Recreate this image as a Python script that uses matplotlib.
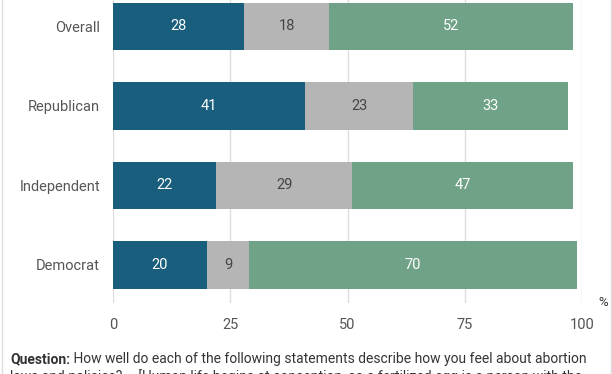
import matplotlib
matplotlib.use("Agg")
import matplotlib.pyplot as plt
import matplotlib.font_manager as fm
from matplotlib.lines import Line2D

# prefer static Roboto files over the variable-width one
fm.fontManager.ttflist = [f for f in fm.fontManager.ttflist
                          if not (f.name == "Roboto" and "[" in f.fname)]
plt.rcParams['font.family'] = ['Roboto', 'DejaVu Sans']

categories = ["Overall", "Republican", "Independent", "Democrat"]
series_a = [28, 41, 22, 20]
series_b = [18, 23, 29, 9]
series_c = [52, 33, 47, 70]
x_ticks = [0, 25, 50, 75, 100]
caption_bold = "Question:"
caption_line1 = " How well do each of the following statements describe how you feel about abortion"
caption_line2 = "laws and policies? \u2013 [Human life begins at conception, so a fertilized egg is a person with the"

colors = ["#195e7c", "#b5b5b5", "#6fa287"]
text_colors = ["#ffffff", "#444444", "#ffffff"]

FS = 10.5
W, H = 612, 374
fig = plt.figure(figsize=(W / 100, H / 100), dpi=100)
fig.patch.set_facecolor("white")
ax = fig.add_axes([113 / W, (H - 303) / H, 469 / W, 303 / H])

ypos = list(range(len(categories)))[::-1]
left = [0] * len(categories)
for vals, col, tcol in zip([series_a, series_b, series_c], colors, text_colors):
    ax.barh(ypos, vals, left=left, height=0.6, color=col, zorder=3)
    for y, v, l in zip(ypos, vals, left):
        ax.text(l + v / 2, y, str(v), ha="center", va="center",
                color=tcol, fontsize=FS, zorder=4)
    left = [a + b for a, b in zip(left, vals)]

ax.set_xlim(0, 100)
ax.set_ylim(-0.48, 3.333)
ax.set_xticks(x_ticks)
ax.set_xticklabels([str(t) for t in x_ticks])
ax.set_yticks(ypos)
ax.set_yticklabels(categories)
ax.tick_params(axis="both", length=0, labelsize=FS, colors="#555555")
ax.tick_params(axis="y", pad=9.4)
ax.tick_params(axis="x", pad=10.5)
ax.grid(axis="x", color="#dddddd", linewidth=1, zorder=0)
for s in ax.spines.values():
    s.set_visible(False)

ax.text(1.045, 0.0, "%", transform=ax.transAxes, ha="center", va="center",
        fontsize=9.5, color="#333333")

# Caption (font size fitted so line 1 spans x=10..588 px)
cfs = 9.5
t1 = fig.text(10 / W, (H - 363) / H, caption_bold, fontweight="bold",
              fontsize=cfs, color="#333333", va="baseline", ha="left")
t2 = ax.annotate(caption_line1, xy=(1, 0), xycoords=t1, va="bottom", ha="left",
                 fontsize=cfs, color="#333333", annotation_clip=False)
t3 = fig.text(10 / W, (H - 381) / H, caption_line2,
              fontsize=cfs, color="#333333", va="baseline", ha="left")
for _ in range(3):
    fig.canvas.draw()
    r = fig.canvas.get_renderer()
    right = t2.get_window_extent(r).x1
    cfs = cfs * (578.0 / (right - 10.0))
    for t in (t1, t2, t3):
        t.set_fontsize(cfs)

# borders
fig.add_artist(Line2D([1.5 / W, 1.5 / W], [0, 1], transform=fig.transFigure,
                      color="#dddddd", linewidth=1))
fig.add_artist(Line2D([610.5 / W, 610.5 / W], [0, 1], transform=fig.transFigure,
                      color="#dddddd", linewidth=1))

fig.savefig("out.png", dpi=100)
